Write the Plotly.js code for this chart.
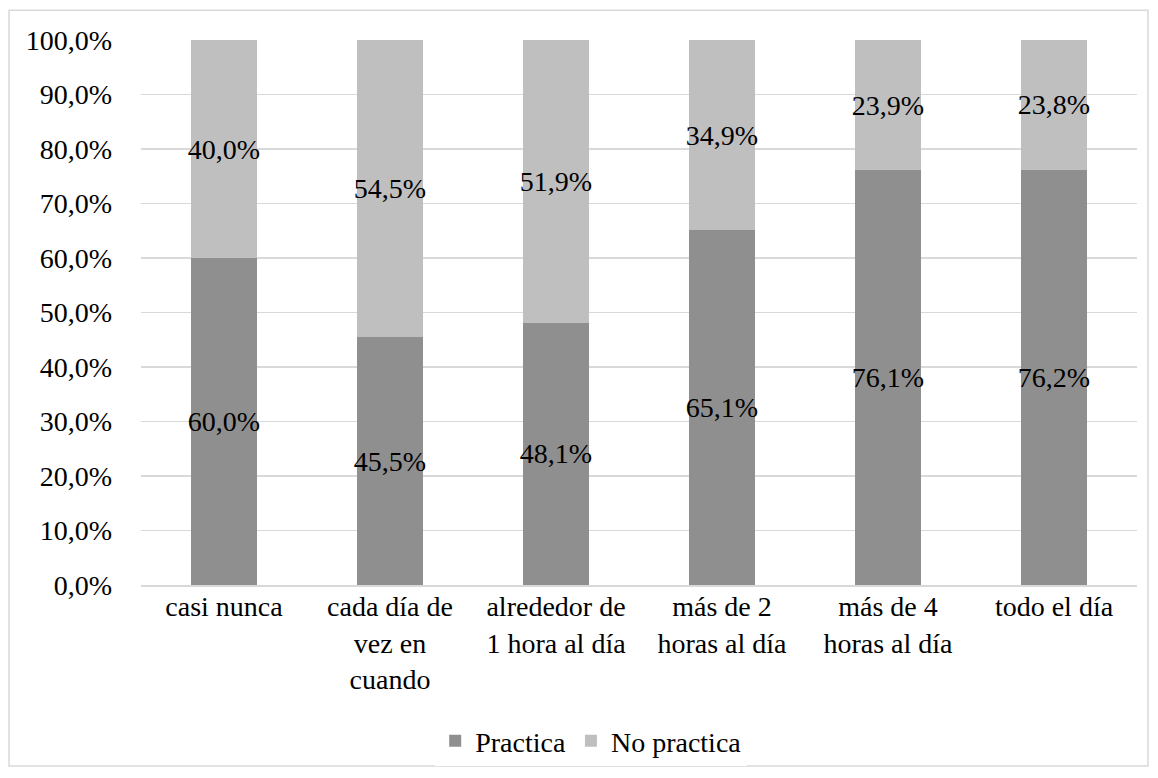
<!DOCTYPE html>
<html><head><meta charset="utf-8">
<script src="https://cdn.plot.ly/plotly-3.0.1.min.js"></script>
<style>html,body{margin:0;padding:0;background:#fff;}#chart{width:1158px;height:778px;}</style>
</head><body><div id="chart"></div>
<script>
const categories = ["casi nunca", "cada día de<br>vez en<br>cuando", "alrededor de<br>1 hora al día", "más de 2<br>horas al día", "más de 4<br>horas al día", "todo el día"];
const practica = [60.0, 45.5, 48.1, 65.1, 76.1, 76.2];
const noPractica = [40.0, 54.5, 51.9, 34.9, 23.9, 23.8];
const yTicks = [0, 10, 20, 30, 40, 50, 60, 70, 80, 90, 100];
const yTickText = ["0,0%", "10,0%", "20,0%", "30,0%", "40,0%", "50,0%", "60,0%", "70,0%", "80,0%", "90,0%", "100,0%"];

const FAM = "Liberation Serif, Times New Roman, serif";
function mkFont(size) { return {family: FAM, size: size || 28, color: "#000000"}; }
const traces = [
  {type: "bar", name: "Practica", x: categories, y: practica, marker: {color: "#8f8f8f"},
   texttemplate: "%{y:.1f}%", textposition: "inside", insidetextanchor: "middle", textangle: 0,
   insidetextfont: mkFont(), textfont: mkFont(), constraintext: "none", hoverinfo: "none"},
  {type: "bar", name: "No practica", x: categories, y: noPractica, marker: {color: "#bfbfbf"},
   texttemplate: "%{y:.1f}%", textposition: "inside", insidetextanchor: "middle", textangle: 0,
   insidetextfont: mkFont(), textfont: mkFont(), constraintext: "none", hoverinfo: "none"}
];
const layout = {
  width: 1158, height: 778, barmode: "stack", bargap: 0.6,
  separators: ",.",
  font: mkFont(),
  paper_bgcolor: "#ffffff", plot_bgcolor: "#ffffff",
  margin: {l: 141, r: 21, t: 40, b: 190},
  showlegend: true,
  legend: {orientation: "h", x: 0.452, xanchor: "center", y: -0.2865, yanchor: "middle", font: mkFont(), traceorder: "normal", itemwidth: 30},
  xaxis: {type: "category", automargin: false, showgrid: false, showline: true, linecolor: "#d9d9d9", linewidth: 1.5, ticks: "", tickfont: mkFont(), tickangle: 0, ticklabelstandoff: -4},
  yaxis: {range: [0, 100], automargin: false, tickmode: "array", tickvals: yTicks, ticktext: yTickText, showgrid: true, gridcolor: "#d9d9d9", gridwidth: 1.5,
          zeroline: false, showline: false, ticks: "", tickfont: mkFont(), ticklabelstandoff: 28},
  shapes: [{type: "rect", xref: "paper", yref: "paper", x0: -0.1325, x1: 1.011, y0: -0.332, y1: 1.0547,
            line: {color: "#d9d9d9", width: 1.5}, fillcolor: "rgba(0,0,0,0)", layer: "below"}]
};
Plotly.newPlot("chart", traces, layout, {displayModeBar: false, staticPlot: true});
</script></body></html>
